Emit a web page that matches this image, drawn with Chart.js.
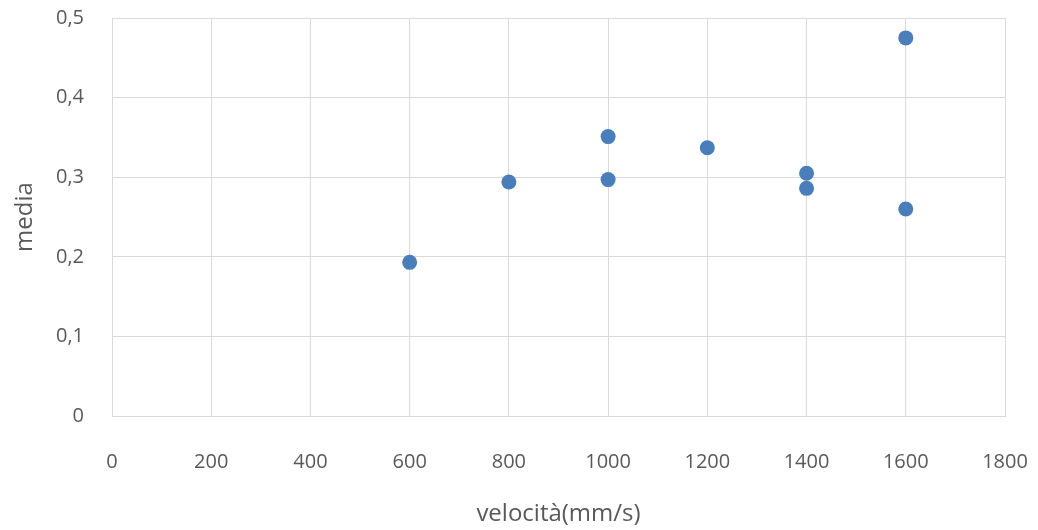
<!DOCTYPE html>
<html>
<head>
<meta charset="utf-8">
<script src="https://cdn.jsdelivr.net/npm/chart.js@4/dist/chart.umd.min.js"></script>
<style>
  html, body { margin: 0; padding: 0; background: #fff; }
  #wrap { width: 1038px; height: 530px; position: relative; }
</style>
</head>
<body>
<div id="wrap"><canvas id="chart"></canvas></div>
<script>
// velocità (mm/s) vs media
const velocita = [600, 800, 1000, 1000, 1200, 1400, 1400, 1600, 1600]
const media = [0.193, 0.294, 0.351, 0.297, 0.337, 0.305, 0.286, 0.475, 0.260]
const xTickLabels = ['0', '200', '400', '600', '800', '1000', '1200', '1400', '1600', '1800']
const yTickLabels = ['0', '0,1', '0,2', '0,3', '0,4', '0,5']

const gridGrey = '#d9d9d9'
const textGrey = '#595959'
const tickFont = { family: 'Open Sans', size: 20 }
const titleFont = { family: 'Open Sans', size: 24 }

const ctx = document.getElementById('chart').getContext('2d')
new Chart(ctx, {
  type: 'scatter',
  data: {
    datasets: [{
      data: velocita.map((v, i) => ({ x: v, y: media[i] })),
      pointRadius: 7.5,
      pointHoverRadius: 7.5,
      pointBorderWidth: 0,
      backgroundColor: '#4a7ebb',
      borderColor: '#4a7ebb'
    }]
  },
  options: {
    responsive: true,
    maintainAspectRatio: false,
    animation: false,
    layout: { padding: { top: 18, right: 33, left: 0, bottom: 0 } },
    plugins: {
      legend: { display: false },
      tooltip: { enabled: false }
    },
    scales: {
      x: {
        type: 'linear',
        min: 0,
        max: 1800,
        // fixed axis band, no extra room for label overflow
        afterFit: (scale) => {
          scale.height = 114
          scale.paddingLeft = 0
          scale.paddingRight = 0
        },
        grid: { color: gridGrey, drawTicks: false },
        border: { color: gridGrey },
        ticks: {
          stepSize: 200,
          padding: 34,
          color: textGrey,
          font: tickFont,
          maxRotation: 0,
          callback: (value, index) => xTickLabels[index]
        },
        title: { display: true, text: 'velocità(mm/s)', color: textGrey, font: titleFont, padding: { top: 0, bottom: 1 } }
      },
      y: {
        type: 'linear',
        min: 0,
        max: 0.5,
        afterFit: (scale) => {
          scale.width = 112
          scale.paddingTop = 0
          scale.paddingBottom = 0
        },
        grid: { color: gridGrey, drawTicks: false },
        border: { color: gridGrey },
        ticks: {
          stepSize: 0.1,
          padding: 28,
          color: textGrey,
          font: tickFont,
          callback: (value, index) => yTickLabels[index]
        },
        title: { display: true, text: 'media', color: textGrey, font: titleFont, padding: { top: 11, bottom: 0 } }
      }
    }
  }
})
</script>
</body>
</html>
